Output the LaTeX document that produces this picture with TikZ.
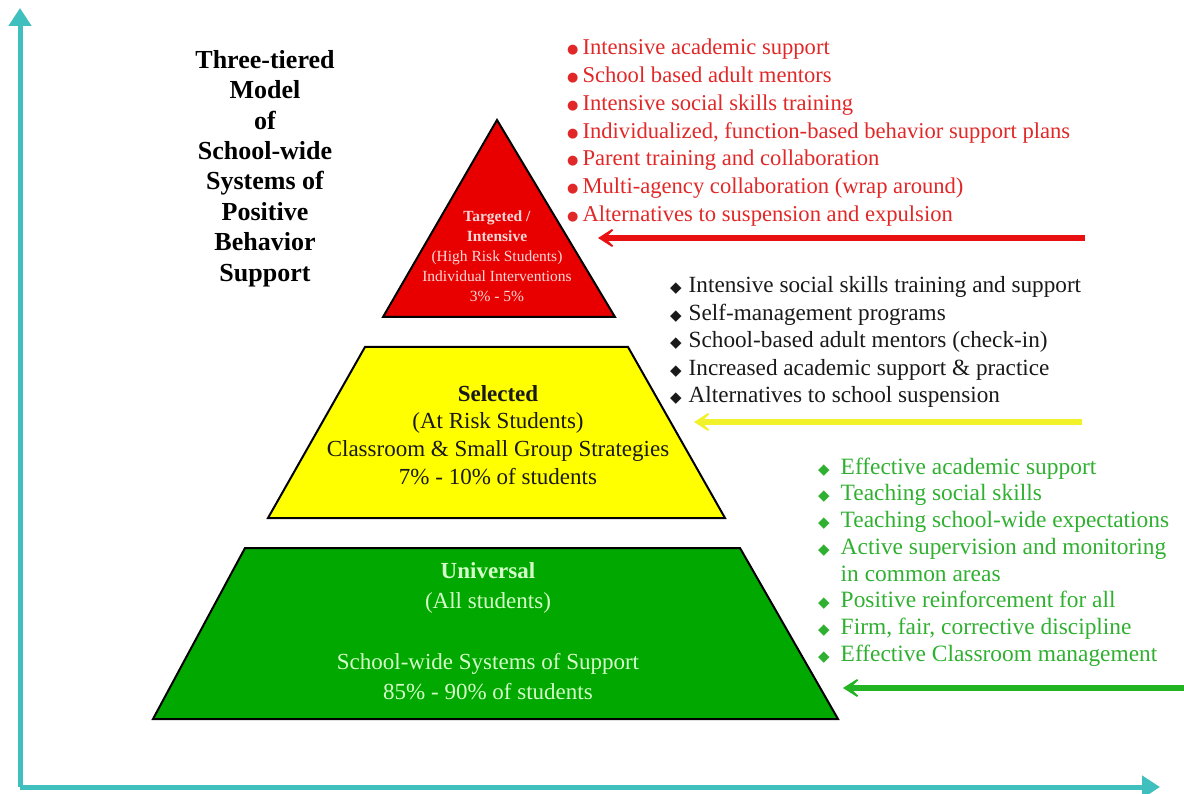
\documentclass[tikz,border=0pt]{standalone}
\usepackage{fontspec}
\setmainfont{Liberation Serif}
\newfontfamily\symfont{DejaVu Sans}
\usepackage{xcolor}
\usepackage{tikz}
\usetikzlibrary{arrows.meta}

\definecolor{axisteal}{HTML}{3FC0BF}
\definecolor{tierred}{HTML}{E80000}
\definecolor{tieryellow}{HTML}{FFFF00}
\definecolor{tiergreen}{HTML}{00A800}
\definecolor{listred}{HTML}{E02828}
\definecolor{listgreen}{HTML}{30B030}
\definecolor{arrowred}{HTML}{E81010}
\definecolor{arrowyellow}{HTML}{F2F22A}
\definecolor{arrowgreen}{HTML}{22B422}
\definecolor{pinktext}{HTML}{FFD8D8}
\definecolor{palegreen}{HTML}{D4FFC8}

\newcommand{\rbul}{\raisebox{1pt}{\symfont\fontsize{13}{13}\selectfont ●}}
\newcommand{\dbul}{{\symfont\fontsize{15}{15}\selectfont ◆}}

\begin{document}
\begin{tikzpicture}[x=1pt, y=-1pt,
  tier/.style={draw=black, line width=2pt, line join=miter},
  tiertext/.style={align=center, inner sep=0pt, anchor=north},
  title/.style={align=center, inner sep=0pt, anchor=north,
                font=\bfseries\fontsize{26}{30.4}\selectfont},
  list/.style={inner sep=0pt, anchor=base west},
  axis/.style={line width=5pt, draw=axisteal, -{Triangle[length=18pt,width=22pt]}},
  arrow/.style={line width=6pt, -{Stealth[length=22pt,width=28pt,inset=15pt]}}
]
\useasboundingbox (0,0) rectangle (1184,794);

%% ---- AXES ----
\coordinate (origin) at (20,787);
\coordinate (ytip)   at (20,8);
\coordinate (xtip)   at (1160,787);
\draw[axis] (origin) -- (ytip);
\draw[axis] (origin) -- (xtip);

%% ---- TITLE ----
\node[title] (title) at (265,50) {Three-tiered\\Model\\of\\School-wide\\Systems of\\Positive\\Behavior\\Support};

%% ---- PYRAMID ----
\draw[tier, fill=tierred]    (497,120) -- (615,317) -- (383,317) -- cycle;
\draw[tier, fill=tieryellow] (365,347) -- (628,347) -- (725,518) -- (268,518) -- cycle;
\draw[tier, fill=tiergreen]  (245,548) -- (740,548) -- (838,719) -- (153,719) -- cycle;

\node[tiertext, text=pinktext, font=\fontsize{15.5}{20}\selectfont] (targeted) at (497,211)
  {\textbf{Targeted /}\\\textbf{Intensive}\\(High Risk Students)\\Individual Interventions\\3\% - 5\%};
\node[tiertext, text=black!90, font=\fontsize{23}{27.7}\selectfont] (selected) at (498,385)
  {\textbf{Selected}\\(At Risk Students)\\Classroom \& Small Group Strategies\\7\% - 10\% of students};
\node[tiertext, text=palegreen, font=\fontsize{23}{30.3}\selectfont] (universal) at (488,562)
  {\textbf{Universal}\\(All students)\\[30.3pt]School-wide Systems of Support\\85\% - 90\% of students};

%% ---- INTERVENTION LISTS ----
\node[list, text=listred, font=\fontsize{22.6}{27.7}\selectfont] (redlist) at (567,55)
  {\begin{tabular}[t]{@{}c@{\hspace{4pt}}l@{}}
   \rbul & Intensive academic support\\
   \rbul & School based adult mentors\\
   \rbul & Intensive social skills training\\
   \rbul & Individualized, function-based behavior support plans\\
   \rbul & Parent training and collaboration\\
   \rbul & Multi-agency collaboration (wrap around)\\
   \rbul & Alternatives to suspension and expulsion
   \end{tabular}};
\node[list, text=black!90, font=\fontsize{23.2}{27.5}\selectfont] (yellowlist) at (670,293)
  {\begin{tabular}[t]{@{}c@{\hspace{7pt}}l@{}}
   \dbul & Intensive social skills training and support\\
   \dbul & Self-management programs\\
   \dbul & School-based adult mentors (check-in)\\
   \dbul & Increased academic support \& practice\\
   \dbul & Alternatives to school suspension
   \end{tabular}};
\node[list, text=listgreen, font=\fontsize{23.4}{26.8}\selectfont] (greenlist) at (818,474)
  {\begin{tabular}[t]{@{}c@{\hspace{11pt}}l@{}}
   \dbul & Effective academic support\\
   \dbul & Teaching social skills\\
   \dbul & Teaching school-wide expectations\\
   \dbul & Active supervision and monitoring\\
         & in common areas\\
   \dbul & Positive reinforcement for all\\
   \dbul & Firm, fair, corrective discipline\\
   \dbul & Effective Classroom management
   \end{tabular}};

%% ---- Arrows ----
\coordinate (redfrom)    at (1085,238);
\coordinate (redto)      at (598,238);
\coordinate (yellowfrom) at (1082,422);
\coordinate (yellowto)   at (694,422);
\coordinate (greenfrom)  at (1184,688);
\coordinate (greento)    at (843,688);
\draw[arrow, arrowred]    (redfrom)    -- (redto);
\draw[arrow, arrowyellow] (yellowfrom) -- (yellowto);
\draw[arrow, arrowgreen]  (greenfrom)  -- (greento);
\end{tikzpicture}
\end{document}
